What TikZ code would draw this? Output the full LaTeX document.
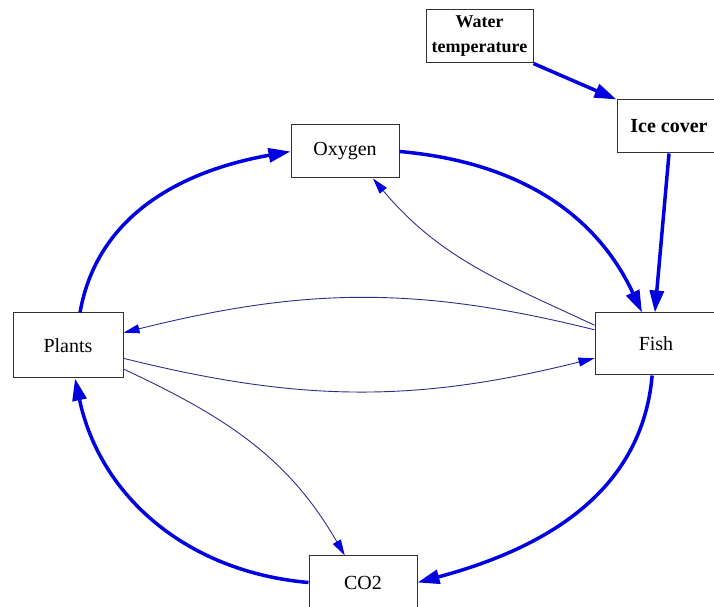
\documentclass[tikz,border=0pt]{standalone}
\usepackage{fontspec}
\setmainfont{Liberation Serif}
\usetikzlibrary{arrows.meta}
\definecolor{linkblue}{RGB}{0,0,225}
\definecolor{linknavy}{RGB}{45,45,140}
\definecolor{boxgray}{RGB}{50,50,50}

\begin{document}
\begin{tikzpicture}[x=1pt,y=1pt,
		box/.style={draw=boxgray,line width=1pt,fill=white,inner sep=0pt,
			minimum width=108pt,minimum height=53pt,font=\fontsize{20}{22}\selectfont},
		boldbox/.style={box,font=\fontsize{20}{24}\selectfont\bfseries},
		strong/.style={draw=linkblue,line width=3.5pt,-{Triangle[length=22pt,width=14pt]}},
		weak/.style={draw=linknavy,line width=0.9pt,-{Triangle[length=16pt,width=9pt,color=linkblue]}}]
		\useasboundingbox (0,0) rectangle (714,607);
		\node[boldbox,align=center,minimum width=107pt,font=\fontsize{18}{25}\selectfont\bfseries](water) at (479.5,570.5) {Water\\temperature};
		\node[boldbox,minimum width=104pt](ice) at (669,480.5) {Ice cover};
		\node[box](oxygen) at (345,455.5) {Oxygen};
		\node[box,minimum width=110pt,minimum height=65pt](plants) at (68,261.5) {Plants};
		\node[box,minimum width=122pt,minimum height=62pt](fish) at (656,263) {Fish};
		\node[box](co2) at (363,24.5) {CO2};
		% thick links
		\path
		(water.south east) edge [strong] (ice.north west)
		(ice.south) edge [strong] (fish.92)
		(plants.70) edge [strong,out=80,in=190] (oxygen.west)
		(oxygen.east) edge [strong,out=-5,in=115] (fish.114)
		(fish.-97) edge [strong,out=-95,in=15] (co2.east)
		(co2.west) edge [strong,out=175,in=-78] (plants.-78);
		% thin links
		\path
		(fish.163) edge [weak,out=155,in=-50] (oxygen.-44)
		(fish.167) edge [weak,out=166,in=14] (plants.13)
		(plants.-13) edge [weak,out=-14,in=194] (fish.-167)
		(plants.-23) edge [weak,out=-25,in=120] (co2.124);
\end{tikzpicture}
\end{document}
